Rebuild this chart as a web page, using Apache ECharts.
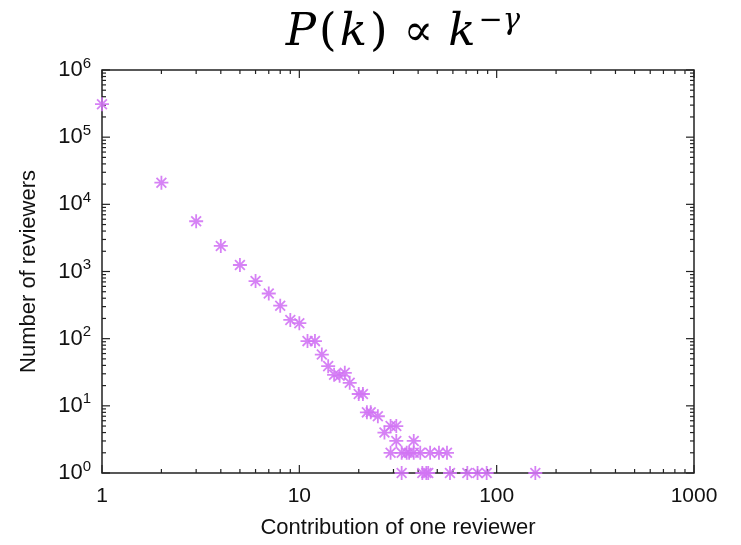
<!DOCTYPE html>
<html>
<head>
<meta charset="utf-8">
<script src="https://cdn.jsdelivr.net/npm/echarts@6/dist/echarts.min.js"></script>
<style>html,body{margin:0;padding:0;background:#fff}#c{width:741px;height:545px}</style>
</head>
<body>
<div id="c"></div>
<script>
// Contribution of one reviewer (k)
var contribution = [1,2,3,4,5,6,7,8,9,10,11,12,13,14,15,16,17,18,20,21,22,23,25,27,29,31,
  31,38,
  29,33,35,36,38,41,46,51,56,
  33,42,44,45,58,71,80,89,157];
// Number of reviewers
var reviewers = [310000,21000,5600,2400,1250,720,470,310,190,170,92,92,58,39,29,28,31,22,15,15,8,8,7,4,5,5,
  3,3,
  2,2,2,2,2,2,2,2,2,
  1,1,1,1,1,1,1,1,1];
var xTickValues = [1,10,100,1000];
var yTickValues = [1,10,100,1000,10000,100000,1000000];
var xTitle = 'Contribution of one reviewer';
var yTitle = 'Number of reviewers';

var points = contribution.map(function(k,i){ return [k, reviewers[i]]; });

function logTicks(arr){
  var out=[];
  for (var i=0;i<arr.length;i++){
    out.push({v:arr[i], major:true});
    if (i<arr.length-1) for (var m=2;m<=9;m++) out.push({v:arr[i]*m, major:false});
  }
  return out;
}
var xt = logTicks(xTickValues), yt = logTicks(yTickValues);
var tickData = [];
xt.forEach(function(t){ tickData.push([t.v, 1, 0, t.major?1:0]); });
yt.forEach(function(t){ tickData.push([1, t.v, 1, t.major?1:0]); });

var chart = echarts.init(document.getElementById('c'));
var col = '#d274f4';
var asterisk = 'path://M0,10L20,10M10,0L10,20M3,3L17,17M17,3L3,17';
var serif = 'DejaVu Serif, Liberation Serif, serif';
var sans = 'Liberation Sans, Arial, sans-serif';
chart.setOption({
  animation:false,
  title:{
    text:'{i|P}{n|(}{i|k}{n|)}{p|∝}{i|k}{s|−γ}',
    left:398, top:2, textAlign:'center',
    textStyle:{
      fontWeight:'normal',
      rich:{
        i:{fontFamily:serif, fontStyle:'italic', fontWeight:'normal', fontSize:45, color:'#000'},
        n:{fontFamily:serif, fontWeight:'normal', fontSize:45, color:'#000', padding:[0,3,0,3]},
        p:{fontFamily:serif, fontWeight:'normal', fontSize:44, color:'#000', padding:[0,15,0,13]},
        s:{fontFamily:serif, fontStyle:'italic', fontWeight:'normal', fontSize:29, color:'#000', verticalAlign:'top', padding:[0,0,24,3]}
      }
    }
  },
  grid:{left:102,right:47,top:70,bottom:72,show:true,borderColor:'#222',borderWidth:1.5,backgroundColor:'transparent'},
  xAxis:{
    type:'log', logBase:10, min:1, max:1000,
    name:xTitle, nameLocation:'middle', nameGap:44,
    nameTextStyle:{fontFamily:sans, fontSize:22, color:'#111'},
    axisLine:{show:false}, axisTick:{show:false}, splitLine:{show:false},
    axisLabel:{fontFamily:sans, fontSize:21, color:'#111', margin:13,
      formatter:function(v){ return String(Math.round(v)); }}
  },
  yAxis:{
    type:'log', logBase:10, min:1, max:1000000,
    name:yTitle, nameLocation:'middle', nameGap:62,
    nameTextStyle:{fontFamily:sans, fontSize:22, color:'#111'},
    axisLine:{show:false}, axisTick:{show:false}, splitLine:{show:false},
    axisLabel:{fontFamily:sans, fontSize:22, color:'#111', margin:11,
      formatter:function(v){ return '10{s|' + Math.round(Math.log10(v)) + '}'; },
      rich:{s:{fontFamily:sans, fontSize:15, color:'#111', verticalAlign:'top', padding:[0,0,13,0]}}
    }
  },
  series:[
    {
      type:'custom', silent:true, clip:false, z:1,
      data:tickData,
      renderItem:function(params, api){
        var isY = api.value(2)===1, major = api.value(3)===1;
        var len = major?8:4;
        var lines=[];
        if(!isY){
          var x = api.value(0);
          var b = api.coord([x,1]), t = api.coord([x,1000000]);
          lines.push([b[0],b[1],b[0],b[1]-len]);
          lines.push([t[0],t[1],t[0],t[1]+len]);
        } else {
          var y = api.value(1);
          var l = api.coord([1,y]), r = api.coord([1000,y]);
          lines.push([l[0],l[1],l[0]+len,l[1]]);
          lines.push([r[0],r[1],r[0]-len,r[1]]);
        }
        return {type:'group', children:lines.map(function(p){
          return {type:'line', shape:{x1:p[0],y1:p[1],x2:p[2],y2:p[3]}, style:{stroke:'#222',lineWidth:1.2}};
        })};
      }
    },
    {
      type:'scatter', data:points, clip:false, z:3,
      symbol:asterisk, symbolSize:14,
      itemStyle:{color:'rgba(0,0,0,0)', borderColor:col, borderWidth:1.8, opacity:0.9}
    }
  ]
});
</script>
</body>
</html>
